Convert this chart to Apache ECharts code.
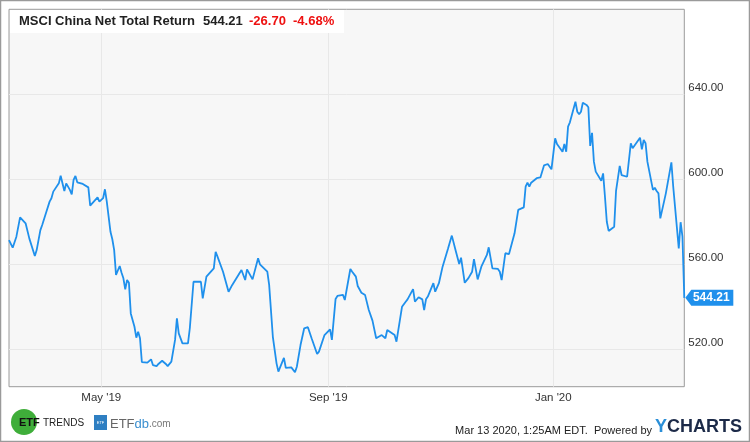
<!DOCTYPE html>
<html><head><meta charset="utf-8">
<script src="https://cdn.jsdelivr.net/npm/echarts@6/dist/echarts.min.js"></script>
<style>html,body{margin:0;padding:0;background:#fff}#c{width:750px;height:442px}</style>
</head><body><div id="c"></div>
<script>
const seriesName = "MSCI China Net Total Return";
const headerValues = ["544.21", "-26.70", "-4.68%"];
const dates = [
"2019-03-12","2019-03-14","2019-03-16","2019-03-18","2019-03-19","2019-03-21","2019-03-23","2019-03-26","2019-03-27","2019-03-28",
"2019-03-29","2019-03-30","2019-04-01","2019-04-02","2019-04-03","2019-04-04","2019-04-05","2019-04-08","2019-04-09","2019-04-10",
"2019-04-11","2019-04-12","2019-04-14","2019-04-15","2019-04-16","2019-04-17","2019-04-18","2019-04-21","2019-04-24","2019-04-25",
"2019-04-26","2019-04-29","2019-04-30","2019-05-02","2019-05-03","2019-05-04","2019-05-06","2019-05-07","2019-05-08","2019-05-09",
"2019-05-11","2019-05-12","2019-05-13","2019-05-14","2019-05-15","2019-05-16","2019-05-17","2019-05-19","2019-05-20","2019-05-21",
"2019-05-22","2019-05-23","2019-05-26","2019-05-28","2019-05-29","2019-05-30","2019-05-31","2019-06-01","2019-06-03","2019-06-05",
"2019-06-06","2019-06-08","2019-06-10","2019-06-11","2019-06-12","2019-06-13","2019-06-14","2019-06-17","2019-06-18","2019-06-20",
"2019-06-21","2019-06-24","2019-06-25","2019-06-27","2019-06-28","2019-07-01","2019-07-02","2019-07-03","2019-07-04","2019-07-06",
"2019-07-09","2019-07-11","2019-07-12","2019-07-16","2019-07-17","2019-07-18","2019-07-19","2019-07-22","2019-07-25","2019-07-26",
"2019-07-30","2019-07-31","2019-08-02","2019-08-04","2019-08-05","2019-08-06","2019-08-08","2019-08-09","2019-08-12","2019-08-14",
"2019-08-15","2019-08-17","2019-08-19","2019-08-21","2019-08-23","2019-08-26","2019-08-27","2019-08-28","2019-08-30","2019-09-02",
"2019-09-03","2019-09-05","2019-09-06","2019-09-09","2019-09-10","2019-09-13","2019-09-14","2019-09-16","2019-09-17","2019-09-18",
"2019-09-19","2019-09-21","2019-09-23","2019-09-25","2019-09-26","2019-09-27","2019-09-30","2019-10-02","2019-10-03","2019-10-07",
"2019-10-08","2019-10-09","2019-10-11","2019-10-13","2019-10-14","2019-10-17","2019-10-18","2019-10-20","2019-10-22","2019-10-23",
"2019-10-24","2019-10-25","2019-10-28","2019-10-29","2019-10-31","2019-11-02","2019-11-05","2019-11-06","2019-11-07","2019-11-09",
"2019-11-11","2019-11-12","2019-11-14","2019-11-16","2019-11-18","2019-11-19","2019-11-21","2019-11-23","2019-11-26","2019-11-27",
"2019-11-28","2019-11-29","2019-12-02","2019-12-03","2019-12-04","2019-12-06","2019-12-08","2019-12-09","2019-12-11","2019-12-13",
"2019-12-16","2019-12-17","2019-12-18","2019-12-19","2019-12-20","2019-12-23","2019-12-24","2019-12-25","2019-12-27","2019-12-29",
"2019-12-30","2019-12-31","2020-01-01","2020-01-02","2020-01-03","2020-01-06","2020-01-07","2020-01-08","2020-01-09","2020-01-10",
"2020-01-13","2020-01-14","2020-01-15","2020-01-16","2020-01-17","2020-01-19","2020-01-20","2020-01-21","2020-01-22","2020-01-23",
"2020-01-24","2020-01-27","2020-01-28","2020-01-29","2020-01-30","2020-01-31","2020-02-03","2020-02-04","2020-02-05","2020-02-06",
"2020-02-07","2020-02-10","2020-02-12","2020-02-13","2020-02-14","2020-02-17","2020-02-18","2020-02-19","2020-02-20","2020-02-21",
"2020-02-24","2020-02-25","2020-02-26","2020-02-27","2020-02-28","2020-03-02","2020-03-03","2020-03-05","2020-03-06","2020-03-09",
"2020-03-10","2020-03-11","2020-03-12"
];
const values = [
571.4,567.8,573.0,582.1,582.4,579.3,572.2,563.9,566.7,567.3,
576.1,578.5,584.0,584.5,589.5,591.1,594.2,598.1,601.7,601.2,
594.5,598.1,595.0,592.9,599.7,601.6,598.6,597.8,596.2,587.6,
587.6,591.5,589.5,591.1,595.3,589.5,575.3,571.8,566.7,555.0,
559.2,556.0,553.4,548.2,552.6,551.3,536.9,530.6,525.5,528.3,
525.2,514.0,513.7,515.3,512.6,513.4,512.1,513.1,514.6,513.1,
512.1,514.2,524.4,534.6,527.5,526.7,522.8,522.8,529.9,551.8,
551.3,551.8,544.0,554.2,553.4,558.1,565.9,563.6,563.1,556.5,
547.1,550.3,551.1,557.3,557.3,552.6,557.6,552.9,562.8,560.0,
556.5,550.3,525.9,513.4,509.5,508.7,516.0,511.3,511.5,509.2,
511.8,522.0,529.9,530.4,525.2,517.8,518.9,518.5,526.7,529.4,
524.4,543.7,545.1,545.6,543.2,557.8,556.5,554.2,549.8,549.5,
546.6,545.5,538.5,533.5,533.3,525.2,526.7,525.2,529.1,526.7,
523.6,523.6,540.0,542.4,543.5,548.3,542.4,544.5,543.5,538.5,
543.5,544.8,551.1,547.1,551.1,558.9,567.5,568.3,573.5,566.7,
560.1,563.1,551.3,553.5,556.5,562.4,552.9,558.9,564.4,568.0,
567.5,558.1,557.8,556.5,552.6,565.2,564.8,563.9,574.6,585.6,
586.8,596.5,598.4,596.5,598.4,600.5,600.0,600.9,606.6,607.2,
607.2,604.7,604.7,619.3,616.6,613.0,616.6,613.0,624.8,626.8,
636.5,631.8,630.6,631.8,636.0,635.0,633.9,615.7,621.9,608.3,
603.6,599.3,602.8,591.8,580.0,575.7,577.7,594.5,595.2,606.3,
602.0,601.2,616.9,614.6,615.1,619.6,614.1,618.5,617.0,608.3,
595.0,596.0,594.5,593.4,581.6,593.4,593.6,608.0,596.5,567.5,
579.8,573.0,544.21
];
const xRange = ["2019-03-12", "2020-03-12"];
const xTickDates = ["2019-05-01", "2019-09-01", "2020-01-01"];
const xTickLabels = ["May '19", "Sep '19", "Jan '20"];
const yTicks = [520, 560, 600, 640];
const yRange = [502.4, 680];

function ts(s){ const p = s.split('-').map(Number); return new Date(p[0], p[1]-1, p[2]).getTime(); }
const data = dates.map((d, i) => [ts(d), values[i]]);
const xTickTs = xTickDates.map(ts);
const last = data[data.length - 1];

const chart = echarts.init(document.getElementById('c'), null, {renderer: 'canvas'});
const FONT = '"Liberation Sans", Arial, sans-serif';
chart.setOption({
  animation: false,
  backgroundColor: '#ffffff',
  textStyle: {fontFamily: FONT},
  grid: {left: 9, top: 9.3, right: 65.7, bottom: 55.3, show: true, backgroundColor: '#f7f7f7', borderColor: '#9a9a9a', borderWidth: 1},
  xAxis: {
    type: 'value', min: ts(xRange[0]), max: ts(xRange[1]),
    axisLine: {show: false}, axisTick: {show: false, customValues: xTickTs},
    splitLine: {show: true, lineStyle: {color: '#e8e8e8', width: 1}},
    axisLabel: {customValues: xTickTs, color: '#333', fontSize: 11.5, fontFamily: FONT, margin: 5,
      formatter: v => { const i = xTickTs.indexOf(v); return i >= 0 ? xTickLabels[i] : ''; }}
  },
  yAxis: {
    type: 'value', position: 'right', min: yRange[0], max: yRange[1],
    axisLine: {show: false}, axisTick: {show: false, customValues: yTicks},
    splitLine: {show: true, lineStyle: {color: '#e8e8e8', width: 1}},
    axisLabel: {customValues: yTicks, color: '#333', fontSize: 11.5, fontFamily: FONT, margin: 4, verticalAlign: 'bottom',
      formatter: v => v.toFixed(2)}
  },
  series: [{
    type: 'line', name: seriesName, data: data, showSymbol: false, symbol: 'none',
    lineStyle: {color: '#1f90ec', width: 1.8}, itemStyle: {color: '#1f90ec'},
    markPoint: {
      silent: true,
      data: [{coord: last, value: last[1]}],
      symbol: 'path://M0,8 L6,0 L48,0 L48,16 L6,16 Z',
      symbolSize: [48, 16], symbolKeepAspect: false, symbolOffset: [25, 0],
      itemStyle: {color: '#1f90ec'},
      label: {show: true, position: 'inside', offset: [2, 0], color: '#fff', fontWeight: 'bold', fontSize: 12, fontFamily: FONT,
        formatter: p => p.value.toFixed(2)}
    }
  }],
  graphic: [
    {type: 'rect', silent: true, shape: {x: 0.5, y: 0.5, width: 749, height: 441}, style: {fill: 'none', stroke: '#9a9a9a', lineWidth: 1.5}, z: 100},
    {type: 'rect', silent: true, shape: {x: 10, y: 10, width: 334, height: 23}, style: {fill: '#ffffff'}, z: 50},
    {type: 'text', silent: true, x: 19, y: 21, z: 51, style: {text: seriesName, font: 'bold 13px ' + FONT, fill: '#222', textVerticalAlign: 'middle'}},
    {type: 'text', silent: true, x: 203, y: 21, z: 51, style: {text: headerValues[0], font: 'bold 13px ' + FONT, fill: '#222', textVerticalAlign: 'middle'}},
    {type: 'text', silent: true, x: 249, y: 21, z: 51, style: {text: headerValues[1], font: 'bold 13px ' + FONT, fill: '#ee1111', textVerticalAlign: 'middle'}},
    {type: 'text', silent: true, x: 293, y: 21, z: 51, style: {text: headerValues[2], font: 'bold 13px ' + FONT, fill: '#ee1111', textVerticalAlign: 'middle'}},
    {type: 'circle', silent: true, shape: {cx: 24, cy: 422, r: 13}, style: {fill: '#3fae3a'}},
    {type: 'text', silent: true, x: 19, y: 423, style: {text: 'ETF', font: 'bold 11px ' + FONT, fill: '#111', textVerticalAlign: 'middle'}},
    {type: 'text', silent: true, x: 43, y: 423, style: {text: 'TRENDS', font: '10px ' + FONT, fill: '#222', textVerticalAlign: 'middle'}},
    {type: 'rect', silent: true, shape: {x: 94, y: 415, width: 13, height: 15}, style: {fill: '#2f7fc2'}},
    {type: 'text', silent: true, x: 100.5, y: 422.5, style: {text: 'ETF', font: '4px ' + FONT, fill: '#fff', textAlign: 'center', textVerticalAlign: 'middle'}},
    {type: 'text', silent: true, x: 110, y: 424, style: {text: '{a|ETF}{b|db}{c|.com}', font: '13px ' + FONT, textVerticalAlign: 'middle',
      rich: {a: {fontSize: 13, fill: '#666', fontFamily: FONT}, b: {fontSize: 13, fill: '#3a8fd0', fontFamily: FONT}, c: {fontSize: 10, fill: '#777', fontFamily: FONT}}}},
    {type: 'text', silent: true, x: 652, y: 431, style: {text: 'Mar 13 2020, 1:25AM EDT.  Powered by', font: '11px ' + FONT, fill: '#222', textAlign: 'right', textVerticalAlign: 'middle'}},
    {type: 'text', silent: true, x: 655, y: 427, style: {text: '{y|Y}{c|CHARTS}', font: 'bold 18px ' + FONT, textVerticalAlign: 'middle',
      rich: {y: {fontSize: 18, fontWeight: 'bold', fill: '#2a8fd8', fontFamily: FONT}, c: {fontSize: 18, fontWeight: 'bold', fill: '#1c2a48', fontFamily: FONT}}}}
  ]
});
</script></body></html>
